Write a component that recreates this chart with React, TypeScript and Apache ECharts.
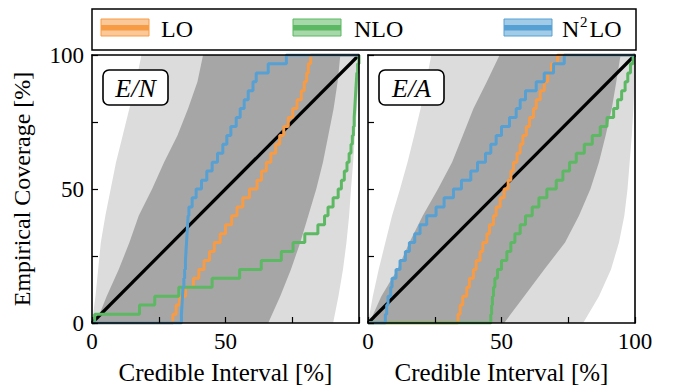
import React, { useEffect, useRef } from 'react';
import * as echarts from 'echarts';

const FONT = 'Liberation Serif';

// Legend / series names
const seriesNames = ['LO', 'NLO', 'N2LO'];
const seriesColors = ['#f89b45', '#5cb862', '#56a0d3'];
const panelLabels = ['E/N', 'E/A'];

// Tick labels
const leftXTickLabels = ['0', '50'];
const rightXTickLabels = ['0', '50', '100'];
const yTickLabels = ['0', '50', '100'];

// Band boundaries: X (credible interval, %) at each empirical-coverage level (%)
const bandLevels = [0, 10, 20, 30, 40, 50, 60, 70, 80, 90, 100];
const enLightLeft = [0, 1.3, 2.3, 3.3, 5, 7, 9, 11.5, 14, 16.5, 18.5];
const enDarkLeft = [1.5, 5.5, 10, 14, 17.5, 22.5, 27, 32, 36, 39.5, 41.6];
const enDarkRight = [66, 70.5, 74.5, 78, 81, 84, 86.5, 88.5, 90.5, 92, 93];
const enLightRight = [90.3, 92.3, 94, 95.3, 96.3, 97, 97.8, 98.5, 99.2, 99.8, 100];
const eaLightLeft = [0, 1.8, 4, 6.5, 9, 12, 14.8, 17.3, 19.7, 21.8, 23.7];
const eaDarkLeft = [0.5, 5, 11, 15.5, 20.5, 26.2, 31.5, 35.5, 39.5, 44.5, 49.3];
const eaDarkRight = [51, 58.5, 66, 73.8, 79, 83.3, 86.5, 89, 91.3, 93, 94.6];
const eaLightRight = [80.6, 86.5, 91, 94, 96, 97.2, 98, 98.8, 99.4, 99.8, 100];

// Diagonal reference
const diagonal = [[0, 0], [100, 100]];

// E/N empirical coverage curves [credible interval %, coverage %]
const enLO = [[0, 0], [30.3, 3.3], [31.5, 6.7], [32.8, 10], [35, 13.3], [38, 16.7], [40, 20], [42, 23.3], [44, 26.7], [45.8, 30], [48, 33.3], [50, 36.7], [52.3, 40], [54.3, 43.3], [56.5, 46.7], [59, 50], [61.8, 53.3], [63.5, 56.7], [65.3, 60], [67, 63.3], [68.8, 66.7], [70.3, 70], [71.8, 73.3], [73.5, 76.7], [75.2, 80], [76.8, 83.3], [78.4, 86.7], [79.5, 90], [80.4, 93.3], [81, 96.7], [81.9, 100], [100, 100]];
const enNLO = [[0, 0], [1, 3.3], [17.8, 6.7], [23.5, 10], [32.5, 13.3], [45, 16.7], [55.3, 20], [63.4, 23.3], [70.9, 26.7], [75.3, 30], [79.7, 33.3], [84.6, 36.7], [87.1, 40], [88.4, 43.3], [90.3, 46.7], [92.2, 50], [93.4, 53.3], [94.5, 56.7], [95.5, 60], [96.3, 63.3], [97, 66.7], [97.5, 70], [97.9, 73.3], [98.2, 76.7], [98.4, 80], [98.6, 83.3], [98.8, 86.7], [99, 90], [99.2, 93.3], [99.5, 96.7], [100, 100]];
const enN2LO = [[0, 0], [33.5, 3.3], [33.7, 6.7], [33.9, 10], [34.1, 13.3], [34.4, 16.7], [34.7, 20], [35, 23.3], [35.2, 26.7], [35.4, 30], [35.6, 33.3], [35.8, 36.7], [36, 40], [36.3, 43.3], [37.5, 46.7], [39, 50], [41, 53.3], [43, 56.7], [45, 60], [47, 63.3], [49, 66.7], [50.5, 70], [52, 73.3], [54, 76.7], [55.5, 80], [57, 83.3], [58.5, 86.7], [60.3, 90], [61.5, 93.3], [66, 96.7], [72.8, 100], [100, 100]];

// E/A empirical coverage curves
const eaLO = [[0, 0], [33.7, 3.3], [34.5, 6.7], [35.5, 10], [37, 13.3], [38, 16.7], [39.5, 20], [40.5, 23.3], [42, 26.7], [43, 30], [44.5, 33.3], [45.5, 36.7], [47, 40], [48, 43.3], [49.5, 46.7], [51, 50], [52.5, 53.3], [53.5, 56.7], [54.5, 60], [55.8, 63.3], [57, 66.7], [58, 70], [59.3, 73.3], [60.5, 76.7], [62, 80], [63, 83.3], [64.5, 86.7], [66, 90], [67.3, 93.3], [68.7, 96.7], [71, 100], [100, 100]];
const eaNLO = [[0, 0], [46, 3.3], [46.3, 6.7], [46.6, 10], [47, 13.3], [47.5, 16.7], [48.5, 20], [50, 23.3], [52, 26.7], [53.5, 30], [55, 33.3], [57, 36.7], [59, 40], [61.5, 43.3], [64, 46.7], [67, 50], [70.5, 53.3], [73, 56.7], [75.5, 60], [78, 63.3], [81, 66.7], [84, 70], [87, 73.3], [89.5, 76.7], [92, 80], [93.5, 83.3], [95, 86.7], [96.3, 90], [97.3, 93.3], [98.3, 96.7], [99.3, 100], [100, 100]];
const eaN2LO = [[0, 0], [6.5, 3.3], [7, 6.7], [7.5, 10], [8.5, 13.3], [9, 16.7], [10.5, 20], [12, 23.3], [14, 26.7], [15.5, 30], [17.5, 33.3], [19.5, 36.7], [22, 40], [25.5, 43.3], [28.5, 46.7], [32, 50], [35, 53.3], [38.5, 56.7], [41, 60], [44, 63.3], [46, 66.7], [48, 70], [50, 73.3], [53, 76.7], [55.5, 80], [57, 83.3], [59, 86.7], [63, 90], [66, 93.3], [69.5, 96.7], [73.5, 100], [100, 100]];

const LIGHT = '#dcdcdc';
const DARK = '#a6a6a6';

const GRID_TOP = 55;
const GRID_H = 269;
const GRID_W = 267;
const GRID_LEFTS = [92, 368];

function band(idx: number, left: number[], right: number[], color: string) {
  return {
    type: 'custom',
    coordinateSystem: 'cartesian2d',
    xAxisIndex: idx,
    yAxisIndex: idx,
    data: [[0, 0]],
    silent: true,
    z: 1,
    renderItem: (_p: any, api: any) => {
      const pts: number[][] = [];
      bandLevels.forEach((y, i) => pts.push(api.coord([left[i], y])));
      for (let i = bandLevels.length - 1; i >= 0; i--) pts.push(api.coord([right[i], bandLevels[i]]));
      return { type: 'polygon', shape: { points: pts }, style: { fill: color } };
    },
  };
}

function line(idx: number, data: number[][], color: string, width: number, step: boolean, z: number) {
  return {
    type: 'line',
    xAxisIndex: idx,
    yAxisIndex: idx,
    data,
    step: step ? 'end' : false,
    showSymbol: false,
    symbol: 'none',
    silent: true,
    z,
    lineStyle: { color, width },
  };
}

function xAxisCfg(idx: number, labels: string[]) {
  return {
    gridIndex: idx,
    type: 'value',
    min: 0,
    max: 100,
    interval: 25,
    z: 10,
    axisLine: { show: true, onZero: false, lineStyle: { color: '#000', width: 1.6 } },
    axisTick: { show: true, inside: true, length: 6, lineStyle: { color: '#000', width: 1.2 } },
    axisLabel: {
      show: true,
      margin: 7,
      color: '#000',
      fontFamily: FONT,
      fontSize: 23,
      showMinLabel: true,
      showMaxLabel: true,
      formatter: (v: number) => (labels.includes(String(v)) ? String(v) : ''),
    },
    splitLine: { show: false },
    name: 'Credible Interval [%]',
    nameLocation: 'middle',
    nameGap: 37,
    nameTextStyle: { color: '#000', fontFamily: FONT, fontSize: 25 },
  };
}

function spine(idx: number, pos: string) {
  return {
    gridIndex: idx,
    type: 'value',
    position: pos,
    min: 0,
    max: 100,
    z: 10,
    axisLine: { show: true, onZero: false, lineStyle: { color: '#000', width: 1.6 } },
    axisTick: { show: false },
    axisLabel: { show: false },
    splitLine: { show: false },
  };
}

export default function App() {
  const ref = useRef<HTMLDivElement>(null);
  useEffect(() => {
    if (!ref.current) return;
    const chart = echarts.init(ref.current, undefined, { renderer: 'svg' });

    const legendX = [101, 293, 504];
    const legendTextX = [161, 354, 562];
    const graphics: any[] = [
      { type: 'rect', z: 50, shape: { x: 92, y: 9, width: 544, height: 41 }, style: { fill: '#fff', stroke: '#000', lineWidth: 1.5 } },
    ];
    seriesNames.forEach((n, i) => {
      graphics.push({ type: 'rect', z: 51, shape: { x: legendX[i], y: 19, width: 48, height: 17 }, style: { fill: seriesColors[i], opacity: 0.55 } });
      graphics.push({ type: 'rect', z: 52, shape: { x: legendX[i], y: 25, width: 48, height: 5.5 }, style: { fill: seriesColors[i] } });
      graphics.push({ type: 'rect', z: 52, shape: { x: legendX[i], y: 19, width: 48, height: 17 }, style: { fill: 'none', stroke: seriesColors[i], lineWidth: 1 } });
    });
    const tstyle = (text: string, size: number) => ({ text, fill: '#000', fontFamily: FONT, fontSize: size, textVerticalAlign: 'middle', verticalAlign: 'middle', textAlign: 'left', align: 'left' });
    graphics.push({ type: 'text', z: 53, x: legendTextX[0], y: 28.5, style: tstyle('LO', 24) });
    graphics.push({ type: 'text', z: 53, x: legendTextX[1], y: 28.5, style: tstyle('NLO', 24) });
    graphics.push({ type: 'text', z: 53, x: legendTextX[2], y: 28.5, style: tstyle('N', 24) });
    graphics.push({ type: 'text', z: 53, x: legendTextX[2] + 18, y: 22, style: tstyle('2', 15) });
    graphics.push({ type: 'text', z: 53, x: legendTextX[2] + 27.5, y: 28.5, style: tstyle('LO', 24) });

    // panel label boxes
    GRID_LEFTS.forEach((gx, i) => {
      graphics.push({ type: 'rect', z: 60, shape: { x: gx + 11, y: 70, width: 65, height: 35, r: 6 }, style: { fill: '#fff', stroke: '#000', lineWidth: 1.6 } });
      graphics.push({ type: 'text', z: 61, x: gx + 43.5, y: 88, style: { text: panelLabels[i], fill: '#000', fontFamily: FONT, fontSize: 26, fontStyle: 'italic', textAlign: 'center', align: 'center', textVerticalAlign: 'middle', verticalAlign: 'middle' } });
    });

    const option: any = {
      animation: false,
      backgroundColor: '#fff',
      textStyle: { fontFamily: FONT },
      grid: GRID_LEFTS.map((l) => ({ left: l, top: GRID_TOP, width: GRID_W, height: GRID_H, containLabel: false })),
      xAxis: [xAxisCfg(0, leftXTickLabels), xAxisCfg(1, rightXTickLabels), spine(0, 'top'), spine(1, 'top')],
      yAxis: [
        {
          gridIndex: 0,
          type: 'value',
          min: 0,
          max: 100,
          interval: 25,
          z: 10,
          axisLine: { show: true, onZero: false, lineStyle: { color: '#000', width: 1.6 } },
          axisTick: { show: true, inside: true, length: 6, lineStyle: { color: '#000', width: 1.2 } },
          axisLabel: {
            margin: 8,
            color: '#000',
            fontFamily: FONT,
            fontSize: 23,
            showMinLabel: true,
            showMaxLabel: true,
            formatter: (v: number) => (yTickLabels.includes(String(v)) ? String(v) : ''),
          },
          splitLine: { show: false },
          name: 'Empirical Coverage [%]',
          nameLocation: 'middle',
          nameGap: 58,
          nameRotate: 90,
          nameTextStyle: { color: '#000', fontFamily: FONT, fontSize: 24 },
        },
        {
          gridIndex: 1,
          type: 'value',
          min: 0,
          max: 100,
          interval: 25,
          z: 10,
          axisLine: { show: true, onZero: false, lineStyle: { color: '#000', width: 1.6 } },
          axisTick: { show: true, inside: true, length: 6, lineStyle: { color: '#000', width: 1.2 } },
          axisLabel: { show: false },
          splitLine: { show: false },
        },
        spine(0, 'right'),
        spine(1, 'right'),
      ],
      series: [
        band(0, enLightLeft, enLightRight, LIGHT),
        band(0, enDarkLeft, enDarkRight, DARK),
        line(0, diagonal, '#000', 3.2, false, 3),
        line(0, enLO, seriesColors[0], 3, true, 4),
        line(0, enNLO, seriesColors[1], 3, true, 5),
        line(0, enN2LO, seriesColors[2], 3, true, 6),
        band(1, eaLightLeft, eaLightRight, LIGHT),
        band(1, eaDarkLeft, eaDarkRight, DARK),
        line(1, diagonal, '#000', 3.2, false, 3),
        line(1, eaLO, seriesColors[0], 3, true, 4),
        line(1, eaNLO, seriesColors[1], 3, true, 5),
        line(1, eaN2LO, seriesColors[2], 3, true, 6),
      ],
      graphic: graphics,
    };
    chart.setOption(option);
    return () => chart.dispose();
  }, []);
  return <div ref={ref} style={{ position: 'fixed', left: 0, top: 0, width: 677, height: 390 }} />;
}
